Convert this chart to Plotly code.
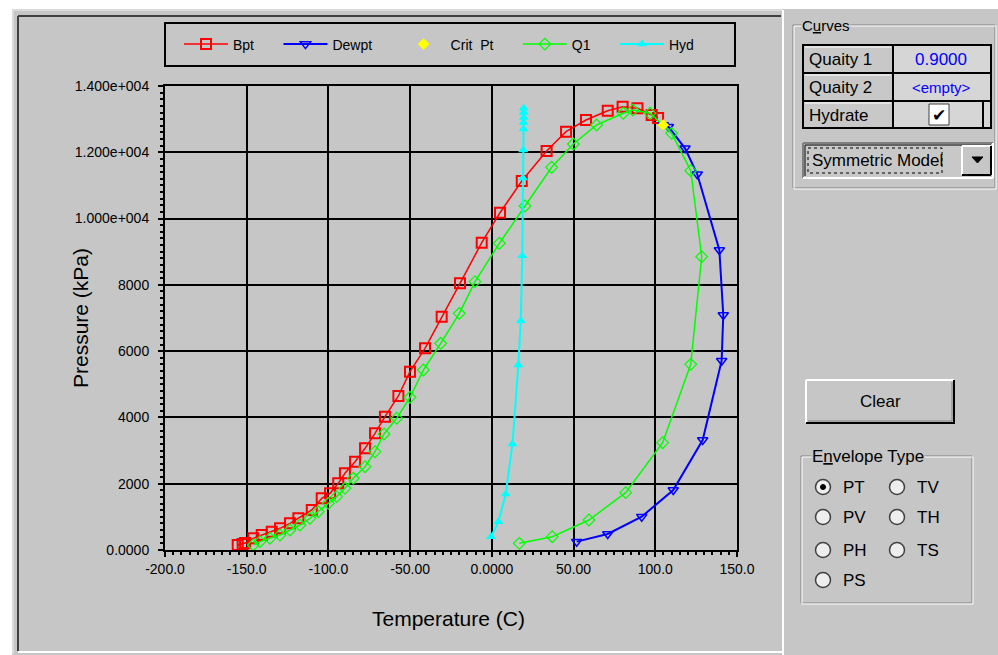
import plotly.graph_objects as go

# ---------------- data ----------------
bpt_t = [-155.5, -152.5, -151.0, -146.0, -140.8, -134.7, -129.6, -123.5, -118.4, -110.2, -104.1,
         -99.0, -94.0, -89.9, -83.7, -77.6, -71.5, -65.4, -57.2, -50.1, -40.9, -30.7, -19.5,
         -6.2, 5.0, 18.3, 33.5, 45.4, 57.6, 70.9, 80.0, 89.1, 97.8, 101.7]
bpt_p = [150, 180, 210, 352, 452, 553, 654, 805, 956, 1207, 1560,
         1710, 2012, 2314, 2665, 3068, 3520, 4022, 4647, 5381, 6085, 7040, 8047,
         9272, 10177, 11134, 12039, 12622, 12974, 13255, 13375, 13326, 13125, 13034]

dew_t = [104.9, 108.0, 118.2, 125.7, 139.2, 141.6, 140.6, 129.0, 111.0, 91.7, 70.9, 51.9]
dew_p = [12823, 12772, 12120, 11336, 9052, 7090, 5712, 3319, 1810, 1006, 483, 252]

crit_t = [104.9]
crit_p = [12823]

q1_t = [-146.0, -141.9, -135.8, -129.6, -123.5, -117.4, -111.3, -106.2, -100.1, -95.0, -89.9,
        -84.8, -77.6, -71.5, -66.0, -58.2, -50.1, -41.9, -31.3, -19.9, -10.3, 4.6, 20.3,
        36.6, 49.9, 64.1, 80.4, 86.3, 96.8, 110.0, 121.7, 128.4, 121.7, 104.5, 81.9, 59.4,
        37.0, 16.8]
q1_p = [151, 252, 352, 453, 603, 754, 956, 1156, 1408, 1610, 1861,
        2163, 2514, 2966, 3500, 3974, 4607, 5431, 6236, 7141, 8097, 9254, 10379,
        11547, 12250, 12823, 13176, 13276, 13176, 12572, 11445, 8850, 5602, 3238, 1730, 905,
        402, 201]

hyd_t = [-0.5, 4.0, 8.5, 12.6, 16.2, 17.7, 18.6, 19.0, 19.2, 19.4, 19.4, 19.5, 19.5, 19.5]
hyd_p = [402, 855, 1690, 3198, 5582, 6919, 8880, 11224, 12069, 12700, 12900, 13050, 13200, 13330]

x_tickvals = [-200, -150, -100, -50, 0, 50, 100, 150]
x_ticktext = ["-200.0", "-150.0", "-100.0", "-50.00", "0.0000", "50.00", "100.0", "150.0"]
y_tickvals = [0, 2000, 4000, 6000, 8000, 10000, 12000, 14000]
y_ticktext = ["0.0000", "2000", "4000", "6000", "8000", "1.000e+004", "1.200e+004", "1.400e+004"]

# ---------------- geometry helpers (screen pixel -> paper) ----------------
OFF = 0                      # page body margin removed below (post_script)
SW, SH = 998, 655            # screen size
W, H = SW - OFF, SH - OFF    # figure size
L, R, T, B = 165, 737, 86, 550   # plot area in screen pixels
GRAY = "#C6C6C6"
DARK = "#404040"
MID = "#808080"
FONT = "Liberation Sans, Arial, sans-serif"
NB = "\u00a0"


def px(x):
    return (x - L) / (R - L)


def py(y):
    return (B - y) / (B - T)


shapes = []
annos = []


def rect(x0, y0, x1, y1, fill=None, color=None, width=0, dash=None):
    d = dict(type="rect", xref="paper", yref="paper", x0=px(x0), x1=px(x1), y0=py(y0), y1=py(y1),
             line=dict(width=width, color=color or "rgba(0,0,0,0)"))
    if dash:
        d["line"]["dash"] = dash
    if fill:
        d["fillcolor"] = fill
    shapes.append(d)


def line(x0, y0, x1, y1, color, width=1):
    shapes.append(dict(type="line", xref="paper", yref="paper", x0=px(x0), x1=px(x1),
                       y0=py(y0), y1=py(y1), line=dict(color=color, width=width)))


def circle(cx, cy, r, fill, color, width=1.5):
    shapes.append(dict(type="circle", xref="paper", yref="paper", x0=px(cx - r), x1=px(cx + r),
                       y0=py(cy - r), y1=py(cy + r), fillcolor=fill, line=dict(color=color, width=width)))


def text(x, y, s, size=16, color="black", anchor="left", bg=None, font=FONT):
    a = dict(xref="paper", yref="paper", x=px(x), y=py(y), text=s, showarrow=False,
             xanchor=anchor, yanchor="middle", font=dict(size=size, color=color, family=font))
    if bg:
        a["bgcolor"] = bg
    a["borderpad"] = 0
    annos.append(a)


# outer white margin (top / left)
rect(0, 0, SW, 9, fill="white")
rect(0, 0, 12, SH, fill="white")
line(12, 10, 783, 10, "#DADADA", 2)
line(13, 10, 13, 654, "#DADADA", 2)
# chart frame (sunken)
line(18, 16, 781, 16, DARK, 2)
line(18, 16, 18, 651, DARK, 2)
line(783, 10, 783, 655, "white", 2)
line(18, 652, 783, 652, "white", 2)

# legend box
rect(165, 23, 735, 66, color="black", width=2)

# ---------------- right panel ----------------
# Curves group box (etched)
rect(793, 25, 995, 188, color=MID, width=1)
rect(794, 26, 996, 189, color="white", width=1)
text(801, 25, "C<span style='text-decoration:underline'>u</span>rves", size=15, bg=GRAY)
# table
rect(893, 45, 991, 128, fill="#D6D6D6")
rect(803, 45, 893, 128, fill="#C8C8C8")
for yy in (46, 74, 102):
    line(805, yy + 1, 891, yy + 1, "white", 1)
rect(803, 45, 991, 128, color="black", width=2)
line(803, 73, 991, 73, "black", 2)
line(803, 101, 991, 101, "black", 2)
line(893, 45, 893, 128, "black", 2)
rect(893, 101, 983, 128, color="black", width=2)
rect(929, 104, 949, 125, fill="white", color=DARK, width=1)
text(808, 59, "Quaity 1", size=17)
text(808, 88, "Quaity 2", size=17)
text(808, 115, "Hydrate", size=17)
text(941, 59, "0.9000", size=17, color="#0000FF", anchor="center")
text(941, 88, "&lt;empty&gt;", size=15, color="#0000FF", anchor="center")
text(939, 115, "✔", size=17, anchor="center", font="DejaVu Sans")
# dropdown
rect(803, 143, 993, 178, fill="#C8C8C8")
line(803, 143, 993, 143, MID, 2)
line(803, 143, 803, 178, MID, 2)
line(805, 145, 991, 145, "black", 1)
line(805, 145, 805, 176, "black", 1)
line(803, 178, 993, 178, "white", 2)
line(993, 143, 993, 178, "white", 2)
rect(808, 148, 942, 173, color="black", width=1, dash="dot")
text(811, 160, "Symmetric Model", size=17)
rect(962, 146, 991, 175, fill=GRAY)
line(962, 146, 991, 146, "white", 2)
line(962, 146, 962, 175, "white", 2)
line(962, 175, 991, 175, "black", 2)
line(991, 146, 991, 175, "black", 2)
shapes.append(dict(type="path", xref="paper", yref="paper",
                   path="M %f,%f L %f,%f L %f,%f Z" % (px(972), py(157), px(983), py(157), px(977.5), py(163)),
                   fillcolor="black", line=dict(color="black", width=1)))
# Clear button
rect(806, 380, 954, 423, fill=GRAY)
line(806, 380, 954, 380, "white", 2)
line(806, 380, 806, 423, "white", 2)
line(806, 423, 955, 423, "black", 2)
line(954, 380, 954, 423, "black", 2)
line(808, 421, 952, 421, MID, 1)
line(952, 382, 952, 421, MID, 1)
text(880, 401, "Clear", size=17, anchor="center")
# Envelope type group box
rect(801, 456, 972, 603, color=MID, width=1)
rect(802, 457, 973, 604, color="white", width=1)
text(811, 456, "E<span style='text-decoration:underline'>n</span>velope Type", size=17, bg=GRAY)
radios = [("PT", 823, 487, True), ("TV", 897, 487, False), ("PV", 823, 517, False),
          ("TH", 897, 517, False), ("PH", 823, 550, False), ("TS", 897, 550, False),
          ("PS", 823, 580, False)]
for lab, cx, cy, on in radios:
    circle(cx, cy, 7.5, "#EEEEEE", DARK, 1.5)
    if on:
        circle(cx, cy, 2.5, "black", "black", 1)
    text(cx + 19, cy, lab, size=17)

# axis titles
annos.append(dict(xref="paper", yref="paper", x=px(80), y=py(318), text="Pressure (kPa)", textangle=-90,
                  showarrow=False, xanchor="center", yanchor="middle",
                  font=dict(size=21, color="black", family=FONT)))
annos.append(dict(xref="paper", yref="paper", x=px(448), y=py(618), text="Temperature (C)",
                  showarrow=False, xanchor="center", yanchor="middle",
                  font=dict(size=21, color="black", family=FONT)))

# ---------------- traces ----------------
fig = go.Figure()
fig.add_trace(go.Scatter(x=bpt_t, y=bpt_p, name="Bpt" + NB * 5, mode="lines+markers",
                         line=dict(color="#FF0000", width=1.5), legendrank=1,
                         marker=dict(symbol="square-open", size=10, color="#FF0000", line=dict(width=2))))
fig.add_trace(go.Scatter(x=dew_t, y=dew_p, name="Dewpt" + NB * 5, mode="lines+markers",
                         line=dict(color="#0000FF", width=2), legendrank=2,
                         marker=dict(symbol="triangle-down-open", size=9, color="#0000FF", line=dict(width=1.5))))
fig.add_trace(go.Scatter(x=q1_t, y=q1_p, name="Q1" + NB * 5, mode="lines+markers",
                         line=dict(color="#00FF00", width=1.5), legendrank=4,
                         marker=dict(symbol="diamond-open", size=9, color="#00FF00", line=dict(width=1.2))))
fig.add_trace(go.Scatter(x=hyd_t, y=hyd_p, name="Hyd", mode="lines+markers",
                         line=dict(color="#00FFFF", width=2), legendrank=5,
                         marker=dict(symbol="triangle-up", size=9, color="#00FFFF")))
fig.add_trace(go.Scatter(x=crit_t, y=crit_p, name="Crit" + NB * 2 + "Pt" + NB * 5, mode="markers",
                         legendrank=3, marker=dict(symbol="diamond", size=9, color="#FFFF00")))

axis_common = dict(showline=True, linecolor="black", linewidth=2, mirror=True,
                   showgrid=True, gridcolor="black", gridwidth=2, zeroline=False,
                   ticks="outside", ticklen=5, tickwidth=1.5, tickcolor="black",
                   tickfont=dict(size=14, color="black", family=FONT))
fig.update_xaxes(range=[-200, 150], tickvals=x_tickvals, ticktext=x_ticktext,
                 minor=dict(dtick=5, ticks="outside", ticklen=3, tickcolor="black", showgrid=False),
                 **axis_common)
fig.update_yaxes(range=[0, 14000], tickvals=y_tickvals, ticktext=y_ticktext, ticklabelstandoff=6,
                 minor=dict(dtick=200, ticks="outside", ticklen=3, tickcolor="black", showgrid=False),
                 **axis_common)

fig.update_layout(
    width=W, height=H, autosize=False,
    margin=dict(l=L - OFF, r=SW - R, t=T - OFF, b=SH - B, pad=0),
    paper_bgcolor=GRAY, plot_bgcolor=GRAY,
    showlegend=True,
    legend=dict(orientation="h", x=px(179), xanchor="left", y=py(44.5), yanchor="middle",
                bgcolor="rgba(0,0,0,0)", borderwidth=0, itemwidth=44,
                font=dict(size=14, color="black", family=FONT), traceorder="normal"),
    shapes=shapes, annotations=annos,
)
fig.write_html("out.html", config={"displayModeBar": False},
               post_script="document.body.style.margin='0';document.body.style.overflow='hidden';")
